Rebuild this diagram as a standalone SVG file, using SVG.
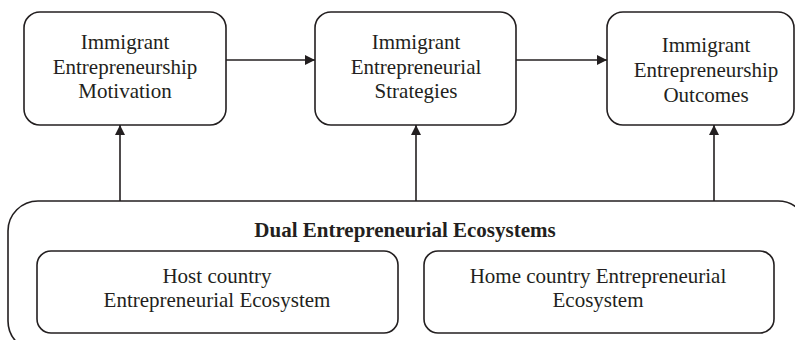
<svg xmlns="http://www.w3.org/2000/svg" width="795" height="340" viewBox="0 0 795 340">
<defs>
<style>
.box{fill:#fff;stroke:#231f20;stroke-width:1.6}
.t{font-family:"Liberation Serif","Times New Roman",serif;font-size:21px;fill:#231f20;text-anchor:middle}
.b{font-weight:bold}
.c{stroke:#231f20;stroke-width:1.6;fill:none;marker-end:url(#ah)}
</style>
<marker id="ah" viewBox="0 0 10 10" refX="10" refY="5" markerWidth="10" markerHeight="10" markerUnits="userSpaceOnUse" orient="auto">
<path d="M0,0 L10,5 L0,10 z" fill="#231f20"/>
</marker>
</defs>
<g id="ecosystems">
<rect class="box" x="8" y="201" width="800" height="150" rx="30"/>
<text class="t b" x="405" y="237">Dual Entrepreneurial Ecosystems</text>
</g>
<g id="host">
<rect class="box" x="37" y="251" width="361" height="82" rx="14"/>
<text class="t" x="217" y="283">Host country</text>
<text class="t" x="217" y="307">Entrepreneurial Ecosystem</text>
</g>
<g id="home">
<rect class="box" x="424" y="251" width="350" height="82" rx="14"/>
<text class="t" x="598" y="283">Home country Entrepreneurial</text>
<text class="t" x="598" y="307">Ecosystem</text>
</g>
<g id="motivation">
<rect class="box" x="24" y="12" width="202" height="113" rx="16"/>
<text class="t" x="125" y="49">Immigrant</text>
<text class="t" x="125" y="74">Entrepreneurship</text>
<text class="t" x="125" y="98">Motivation</text>
</g>
<g id="strategies">
<rect class="box" x="315" y="12" width="201" height="113" rx="16"/>
<text class="t" x="416" y="49">Immigrant</text>
<text class="t" x="416" y="74">Entrepreneurial</text>
<text class="t" x="416" y="98">Strategies</text>
</g>
<g id="outcomes">
<rect class="box" x="607" y="12" width="187" height="113" rx="16"/>
<text class="t" x="706" y="52">Immigrant</text>
<text class="t" x="706" y="77">Entrepreneurship</text>
<text class="t" x="706" y="102">Outcomes</text>
</g>
<g id="connectors">
<line class="c" x1="226" y1="60" x2="315" y2="60"/>
<line class="c" x1="516" y1="60" x2="607" y2="60"/>
<line class="c" x1="120" y1="201" x2="120" y2="125"/>
<line class="c" x1="416" y1="201" x2="416" y2="125"/>
<line class="c" x1="714" y1="201" x2="714" y2="125"/>
</g>
</svg>
